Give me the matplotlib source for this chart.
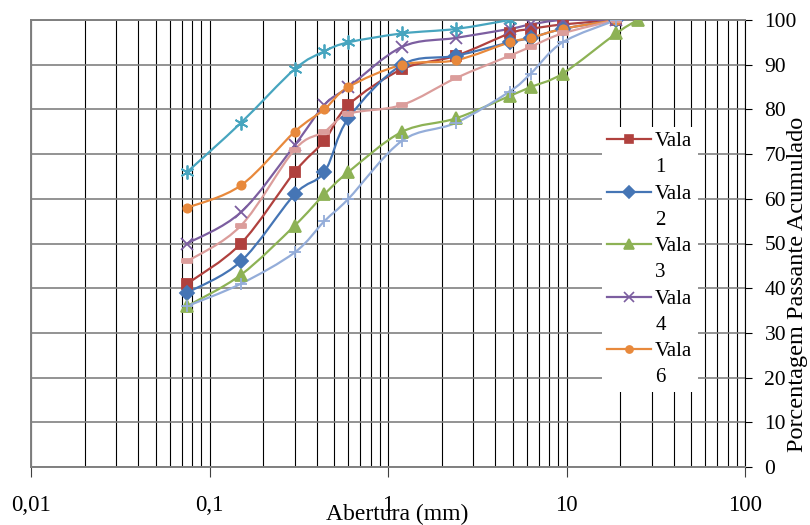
import numpy as np
import matplotlib.pyplot as plt
from matplotlib.path import Path
from matplotlib.patches import PathPatch
from matplotlib.lines import Line2D
from matplotlib.legend_handler import HandlerLine2D
from matplotlib.ticker import FixedLocator, NullFormatter

plt.rcParams['font.family'] = ['Liberation Serif', 'DejaVu Serif']

# aberturas das peneiras (mm) e porcentagem passante
peneiras = [0.075, 0.15, 0.3, 0.44, 0.6, 1.2, 2.4, 4.8, 6.3, 9.5, 19]
peneiras3 = peneiras + [25]
peneiras8 = peneiras[:8]

vala1 = [41, 50, 66, 73, 81, 89, 92, 97, 98, 99, 100]
vala2 = [39, 46, 61, 66, 78, 90, 92, 95, 96, 98, 100]
vala3 = [36, 43, 54, 61, 66, 75, 78, 83, 85, 88, 97, 100]
vala4 = [50, 57, 72, 81, 85, 94, 96, 98, 99, 100, 100]
vala6 = [58, 63, 75, 80, 85, 90, 91, 95, 96, 98, 100]
vala5 = [46, 54, 71, 75, 79, 81, 87, 92, 94, 97, 100]
vala7 = [36, 41, 48, 55, 60, 73, 77, 84, 88, 95, 100]
vala8 = [66, 77, 89, 93, 95, 97, 98, 100]

xticks = [0.01, 0.1, 1, 10, 100]
xticklabels = ['0,01', '0,1', '1', '10', '100']
yticks = list(range(0, 101, 10))

dash = [(-1, -0.45), (1, -0.45), (1, 0.45), (-1, 0.45), (-1, -0.45)]

series = [
    ('Vala\n1', peneiras, vala1, '#B0413E', 's', 7, True),
    ('Vala\n2', peneiras, vala2, '#4575B5', 'D', 7, True),
    ('Vala\n3', peneiras3, vala3, '#8DB255', '^', 9, True),
    ('Vala\n4', peneiras, vala4, '#7C5EA0', 'x', 8, True),
    ('Vala\n6', peneiras, vala6, '#E8893C', 'o', 6, True),
    ('Vala 5', peneiras, vala5, '#DB9D9B', dash, 7, False),
    ('Vala 7', peneiras, vala7, '#94ADD9', '+', 9, False),
    ('Vala 8', peneiras8, vala8, '#47A5BF', (6, 2, 0), 10, False),
]


def curva(xs, ys):
    # curva suavizada (bezier tipo catmull-rom) no espaco log(x)
    u = np.log10(xs)
    v = np.array(ys, float)
    n = len(u)
    verts = [(u[0], v[0])]
    codes = [Path.MOVETO]
    for i in range(n - 1):
        j0 = max(i - 1, 0)
        j3 = min(i + 2, n - 1)
        c1 = (u[i] + (u[i + 1] - u[j0]) / 6, v[i] + (v[i + 1] - v[j0]) / 6)
        c2 = (u[i + 1] - (u[j3] - u[i]) / 6, v[i + 1] - (v[j3] - v[i]) / 6)
        verts += [c1, c2, (u[i + 1], v[i + 1])]
        codes += [Path.CURVE4] * 3
    verts = np.array(verts)
    verts[:, 0] = 10 ** verts[:, 0]
    return Path(verts, codes)


class HandlerTopo(HandlerLine2D):
    # alinha o simbolo com a primeira linha do texto
    def create_artists(self, legend, orig_handle, xdescent, ydescent,
                       width, height, fontsize, trans):
        return super().create_artists(legend, orig_handle, xdescent,
                                      ydescent - 22, width, height,
                                      fontsize, trans)


fig = plt.figure(figsize=(8.1, 5.25), dpi=100)
ax = fig.add_axes([31 / 810, 1 - 467 / 525, 714 / 810, 447 / 525])

ax.set_xscale('log')
ax.set_xlim(0.01, 100)
ax.set_ylim(0, 100)

handles = []
labels = []
for nome, xs, ys, cor, mk, ms, leg in series:
    ax.add_patch(PathPatch(curva(xs, ys), fill=False, edgecolor=cor,
                           lw=1.6, zorder=3))
    ax.plot(xs, ys, linestyle='none', marker=mk, ms=ms, color=cor,
            mec=cor, mew=1.3, zorder=4)
    if leg:
        handles.append(Line2D([], [], color=cor, lw=1.6, marker=mk,
                              ms=ms * 0.85, mew=1.2))
        labels.append(nome)

# grade
ax.xaxis.set_major_locator(FixedLocator(xticks))
ax.xaxis.set_minor_locator(FixedLocator(
    [m * 10.0 ** e for e in range(-2, 2) for m in range(2, 10)]))
ax.xaxis.set_minor_formatter(NullFormatter())
ax.set_xticklabels(xticklabels)
ax.grid(True, which='both', axis='x', color='black', lw=0.8, zorder=1)
ax.set_yticks(yticks)
ax.grid(True, which='major', axis='y', color='#808080', lw=1.2, zorder=1)
ax.set_axisbelow(True)

ax.yaxis.tick_right()
ax.yaxis.set_label_position('right')
ax.tick_params(axis='y', which='major', direction='out', length=5,
               width=0.8, color='black', pad=9, labelsize=15.5)
ax.tick_params(axis='x', which='major', direction='out', length=7,
               width=0.8, color='#404040', pad=13, labelsize=16.5)
ax.tick_params(axis='x', which='minor', length=0)

for s in ['left', 'top', 'bottom']:
    ax.spines[s].set_color('#808080')
    ax.spines[s].set_linewidth(1.4)
ax.spines['right'].set_color('black')
ax.spines['right'].set_linewidth(0.8)

ax.set_xlabel('Abertura (mm)', fontsize=17)
ax.xaxis.set_label_coords(0.513, -0.083)
ax.xaxis.label.set_va('top')

fig.text(797 / 810, 1 - 284 / 525, 'Porcentagem Passante Acumulado',
         rotation=90, ha='center', va='center', fontsize=17.5)

leg = ax.legend(handles, labels, loc='upper left',
                bbox_to_anchor=(602 / 810, 1 - 127 / 525),
                bbox_transform=fig.transFigure, fontsize=15,
                frameon=True, fancybox=False, framealpha=1,
                facecolor='white', edgecolor='none', borderpad=0.25,
                borderaxespad=0, handlelength=2.1, handletextpad=0.2,
                labelspacing=0.36, handler_map={Line2D: HandlerTopo()})
for t in leg.get_texts():
    t.set_linespacing(1.5)
leg.set_zorder(5)

fig.savefig('out.png', dpi=100)
